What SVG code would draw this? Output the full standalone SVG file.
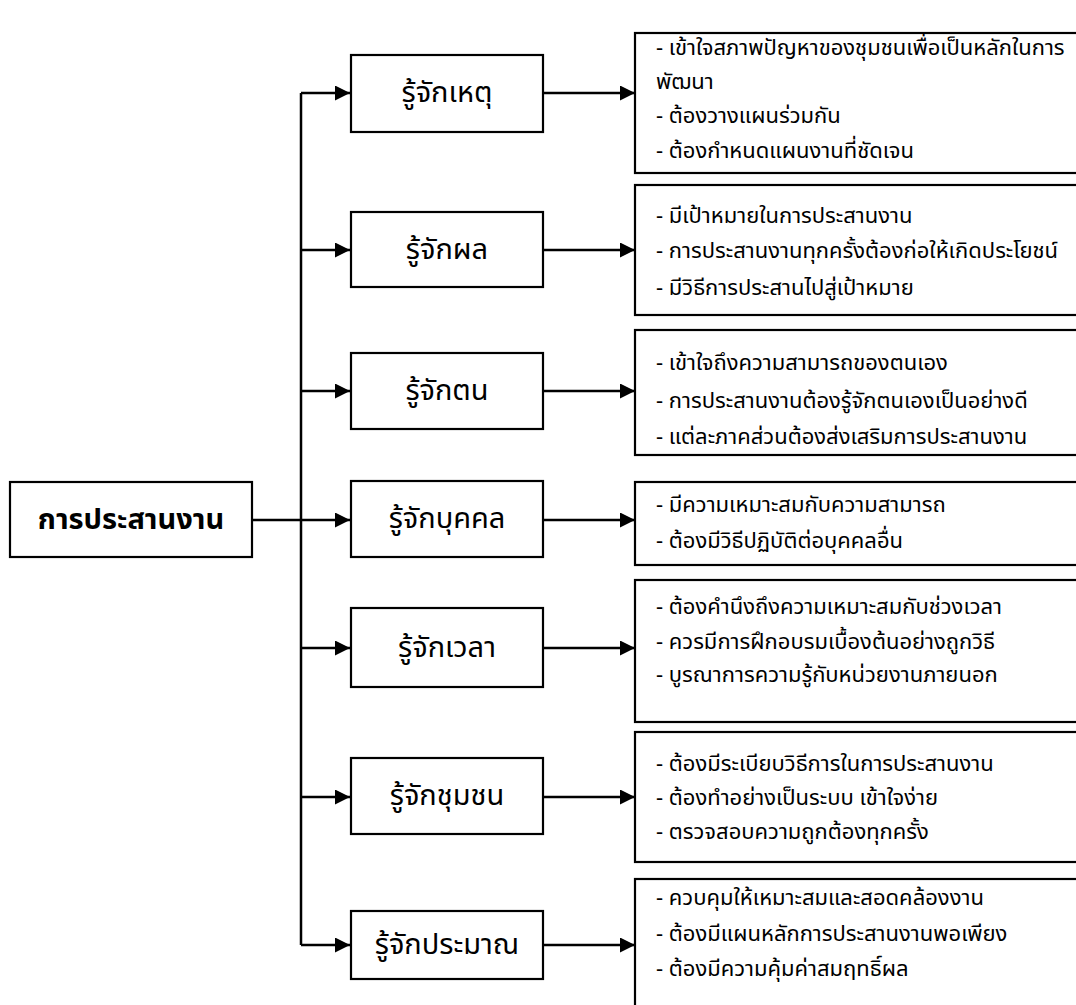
<svg xmlns="http://www.w3.org/2000/svg" width="1076" height="1005" viewBox="0 0 1076 1005">
<style>
.box{fill:#fff;stroke:#000;stroke-width:2.2}
.ln{fill:none;stroke:#000;stroke-width:2.5}
.t{font-family:"Noto Sans Thai","Noto Sans Thai UI","Leelawadee UI",Tahoma,"DejaVu Sans",sans-serif;fill:#000}
.nl{font-size:29px;text-anchor:middle;dominant-baseline:central}
.ml{font-size:29px;font-weight:bold;text-anchor:middle;dominant-baseline:central}
.dl{font-size:22px}
</style>
<defs>
<marker id="ah" markerUnits="userSpaceOnUse" markerWidth="16" markerHeight="16" refX="15" refY="7.5" orient="auto">
<path d="M0,0 L15,7.5 L0,15 Z" fill="#000"/>
</marker>
</defs>
<rect width="1076" height="1005" fill="#fff"/>
<g id="connectors">
<path class="ln" d="M301,93 V945"/>
<path class="ln" d="M252,520 H350" marker-end="url(#ah)"/>
<path class="ln" d="M301,93 H350" marker-end="url(#ah)"/>
<path class="ln" d="M301,250 H350" marker-end="url(#ah)"/>
<path class="ln" d="M301,391 H350" marker-end="url(#ah)"/>
<path class="ln" d="M301,648 H350" marker-end="url(#ah)"/>
<path class="ln" d="M301,797 H350" marker-end="url(#ah)"/>
<path class="ln" d="M301,945 H350" marker-end="url(#ah)"/>
<path class="ln" d="M543,93 H635" marker-end="url(#ah)"/>
<path class="ln" d="M543,250 H635" marker-end="url(#ah)"/>
<path class="ln" d="M543,391 H635" marker-end="url(#ah)"/>
<path class="ln" d="M543,520 H635" marker-end="url(#ah)"/>
<path class="ln" d="M543,648 H635" marker-end="url(#ah)"/>
<path class="ln" d="M543,797 H635" marker-end="url(#ah)"/>
<path class="ln" d="M543,945 H635" marker-end="url(#ah)"/>
</g>
<g id="main"><rect class="box" x="10" y="482" width="242" height="75"/><text class="t ml" x="131" y="520">การประสานงาน</text></g>
<g id="n1"><rect class="box" x="351" y="55" width="192" height="77"/><text class="t nl" x="447" y="93">รู้จักเหตุ</text></g>
<g id="n2"><rect class="box" x="351" y="212" width="192" height="75"/><text class="t nl" x="447" y="250">รู้จักผล</text></g>
<g id="n3"><rect class="box" x="351" y="353" width="192" height="76"/><text class="t nl" x="447" y="391">รู้จักตน</text></g>
<g id="n4"><rect class="box" x="351" y="481" width="192" height="76"/><text class="t nl" x="447" y="519">รู้จักบุคคล</text></g>
<g id="n5"><rect class="box" x="351" y="608" width="192" height="79"/><text class="t nl" x="447" y="648">รู้จักเวลา</text></g>
<g id="n6"><rect class="box" x="351" y="758" width="192" height="76"/><text class="t nl" x="447" y="796">รู้จักชุมชน</text></g>
<g id="n7"><rect class="box" x="351" y="911" width="192" height="68"/><text class="t nl" x="447" y="945">รู้จักประมาณ</text></g>
<g id="d1"><rect class="box" x="635" y="33" width="450" height="140"/>
<text class="t dl"><tspan x="656" y="55">- เข้าใจสภาพปัญหาของชุมชนเพื่อเป็นหลักในการ</tspan><tspan x="656" y="89">พัฒนา</tspan><tspan x="656" y="123">- ต้องวางแผนร่วมกัน</tspan><tspan x="656" y="158">- ต้องกำหนดแผนงานที่ชัดเจน</tspan></text></g>
<g id="d2"><rect class="box" x="635" y="185" width="450" height="130"/>
<text class="t dl"><tspan x="656" y="223">- มีเป้าหมายในการประสานงาน</tspan><tspan x="656" y="258">- การประสานงานทุกครั้งต้องก่อให้เกิดประโยชน์</tspan><tspan x="656" y="295">- มีวิธีการประสานไปสู่เป้าหมาย</tspan></text></g>
<g id="d3"><rect class="box" x="635" y="330" width="450" height="125"/>
<text class="t dl"><tspan x="656" y="370">- เข้าใจถึงความสามารถของตนเอง</tspan><tspan x="656" y="408">- การประสานงานต้องรู้จักตนเองเป็นอย่างดี</tspan><tspan x="656" y="444">- แต่ละภาคส่วนต้องส่งเสริมการประสานงาน</tspan></text></g>
<g id="d4"><rect class="box" x="635" y="482" width="450" height="83"/>
<text class="t dl"><tspan x="656" y="512">- มีความเหมาะสมกับความสามารถ</tspan><tspan x="656" y="548">- ต้องมีวิธีปฏิบัติต่อบุคคลอื่น</tspan></text></g>
<g id="d5"><rect class="box" x="635" y="580" width="450" height="142"/>
<text class="t dl"><tspan x="656" y="614">- ต้องคำนึงถึงความเหมาะสมกับช่วงเวลา</tspan><tspan x="656" y="649">- ควรมีการฝึกอบรมเบื้องต้นอย่างถูกวิธี</tspan><tspan x="656" y="682">- บูรณาการความรู้กับหน่วยงานภายนอก</tspan></text></g>
<g id="d6"><rect class="box" x="635" y="732" width="450" height="130"/>
<text class="t dl"><tspan x="656" y="771">- ต้องมีระเบียบวิธีการในการประสานงาน</tspan><tspan x="656" y="805">- ต้องทำอย่างเป็นระบบ เข้าใจง่าย</tspan><tspan x="656" y="839">- ตรวจสอบความถูกต้องทุกครั้ง</tspan></text></g>
<g id="d7"><rect class="box" x="635" y="879" width="450" height="140"/>
<text class="t dl"><tspan x="656" y="905">- ควบคุมให้เหมาะสมและสอดคล้องงาน</tspan><tspan x="656" y="941">- ต้องมีแผนหลักการประสานงานพอเพียง</tspan><tspan x="656" y="976">- ต้องมีความคุ้มค่าสมฤทธิ์ผล</tspan></text></g>
</svg>
